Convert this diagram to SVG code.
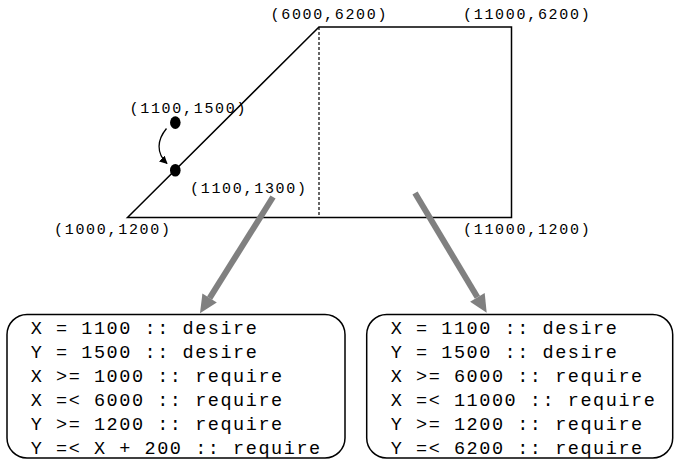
<svg xmlns="http://www.w3.org/2000/svg" width="674" height="459" viewBox="0 0 674 459">
  <defs>
    <style>
      .lbl { font-family: "Liberation Mono", "Courier New", monospace; font-size: 15px; letter-spacing: 1.7px; fill: #000; }
      .con { font-family: "Liberation Mono", "Courier New", monospace; font-size: 18.5px; letter-spacing: 1.55px; fill: #000; }
      .edge { fill: none; stroke: #000; stroke-width: 1.5; }
      .box { fill: #fff; stroke: #000; stroke-width: 1.5; }
      .big { stroke: #808080; stroke-width: 6; fill: none; }
      .bighead { fill: #808080; }
    </style>
    <marker id="tip" viewBox="0 0 10 10" refX="9" refY="5" markerWidth="8" markerHeight="8" markerUnits="userSpaceOnUse" orient="auto">
      <path d="M0,0 L10,5 L0,10 z" fill="#000"/>
    </marker>
  </defs>
  <rect width="674" height="459" fill="#fff"/>

  <!-- region outline: slanted triangle plus rectangle -->
  <g id="region">
    <path class="edge" d="M127.5,217.5 L319,27 L511.5,27 L511.5,217.5 Z"/>
    <line x1="319" y1="27" x2="319" y2="217.5" stroke="#000" stroke-width="1.2" stroke-dasharray="3,2"/>
  </g>

  <!-- corner labels -->
  <g id="labels">
    <text class="lbl" x="270.5" y="19">(6000,6200)</text>
    <text class="lbl" x="463" y="19">(11000,6200)</text>
    <text class="lbl" x="129.5" y="113">(1100,1500)</text>
    <text class="lbl" x="190" y="193">(1100,1300)</text>
    <text class="lbl" x="54" y="234">(1000,1200)</text>
    <text class="lbl" x="463" y="234">(11000,1200)</text>
  </g>

  <!-- desired point and projected point -->
  <g id="point-desired"><ellipse cx="175.3" cy="122.6" rx="5.3" ry="6.3" fill="#000"/></g>
  <g id="point-projected"><ellipse cx="175.3" cy="170.2" rx="5.3" ry="6.3" fill="#000"/></g>

  <!-- constraint boxes -->
  <g id="constraints-left">
    <rect class="box" x="7" y="314.5" width="338" height="143.5" rx="20" ry="20"/>
    <text class="con" x="30.7" y="334">X = 1100 :: desire</text>
    <text class="con" x="30.7" y="358">Y = 1500 :: desire</text>
    <text class="con" x="30.7" y="382">X &gt;= 1000 :: require</text>
    <text class="con" x="30.7" y="406">X =&lt; 6000 :: require</text>
    <text class="con" x="30.7" y="430">Y &gt;= 1200 :: require</text>
    <text class="con" x="30.7" y="454">Y =&lt; X + 200 :: require</text>
  </g>
  <g id="constraints-right">
    <rect class="box" x="366.7" y="314.5" width="306" height="143.5" rx="20" ry="20"/>
    <text class="con" x="390.7" y="334">X = 1100 :: desire</text>
    <text class="con" x="390.7" y="358">Y = 1500 :: desire</text>
    <text class="con" x="390.7" y="382">X &gt;= 6000 :: require</text>
    <text class="con" x="390.7" y="406">X =&lt; 11000 :: require</text>
    <text class="con" x="390.7" y="430">Y &gt;= 1200 :: require</text>
    <text class="con" x="390.7" y="454">Y =&lt; 6200 :: require</text>
  </g>

  <!-- connectors -->
  <g id="connectors">
    <path d="M166.5,128.5 C157,140 156,153 167,163.5" fill="none" stroke="#000" stroke-width="1.3" marker-end="url(#tip)"/>
    <line class="big" x1="273" y1="197" x2="209.6" y2="298.1"/>
    <polygon class="bighead" points="200,313.3 202.4,293.6 216.8,302.6"/>
    <line class="big" x1="415" y1="193" x2="477.4" y2="297.3"/>
    <polygon class="bighead" points="486.7,312.7 484.7,292.9 470.1,301.7"/>
  </g>
</svg>
